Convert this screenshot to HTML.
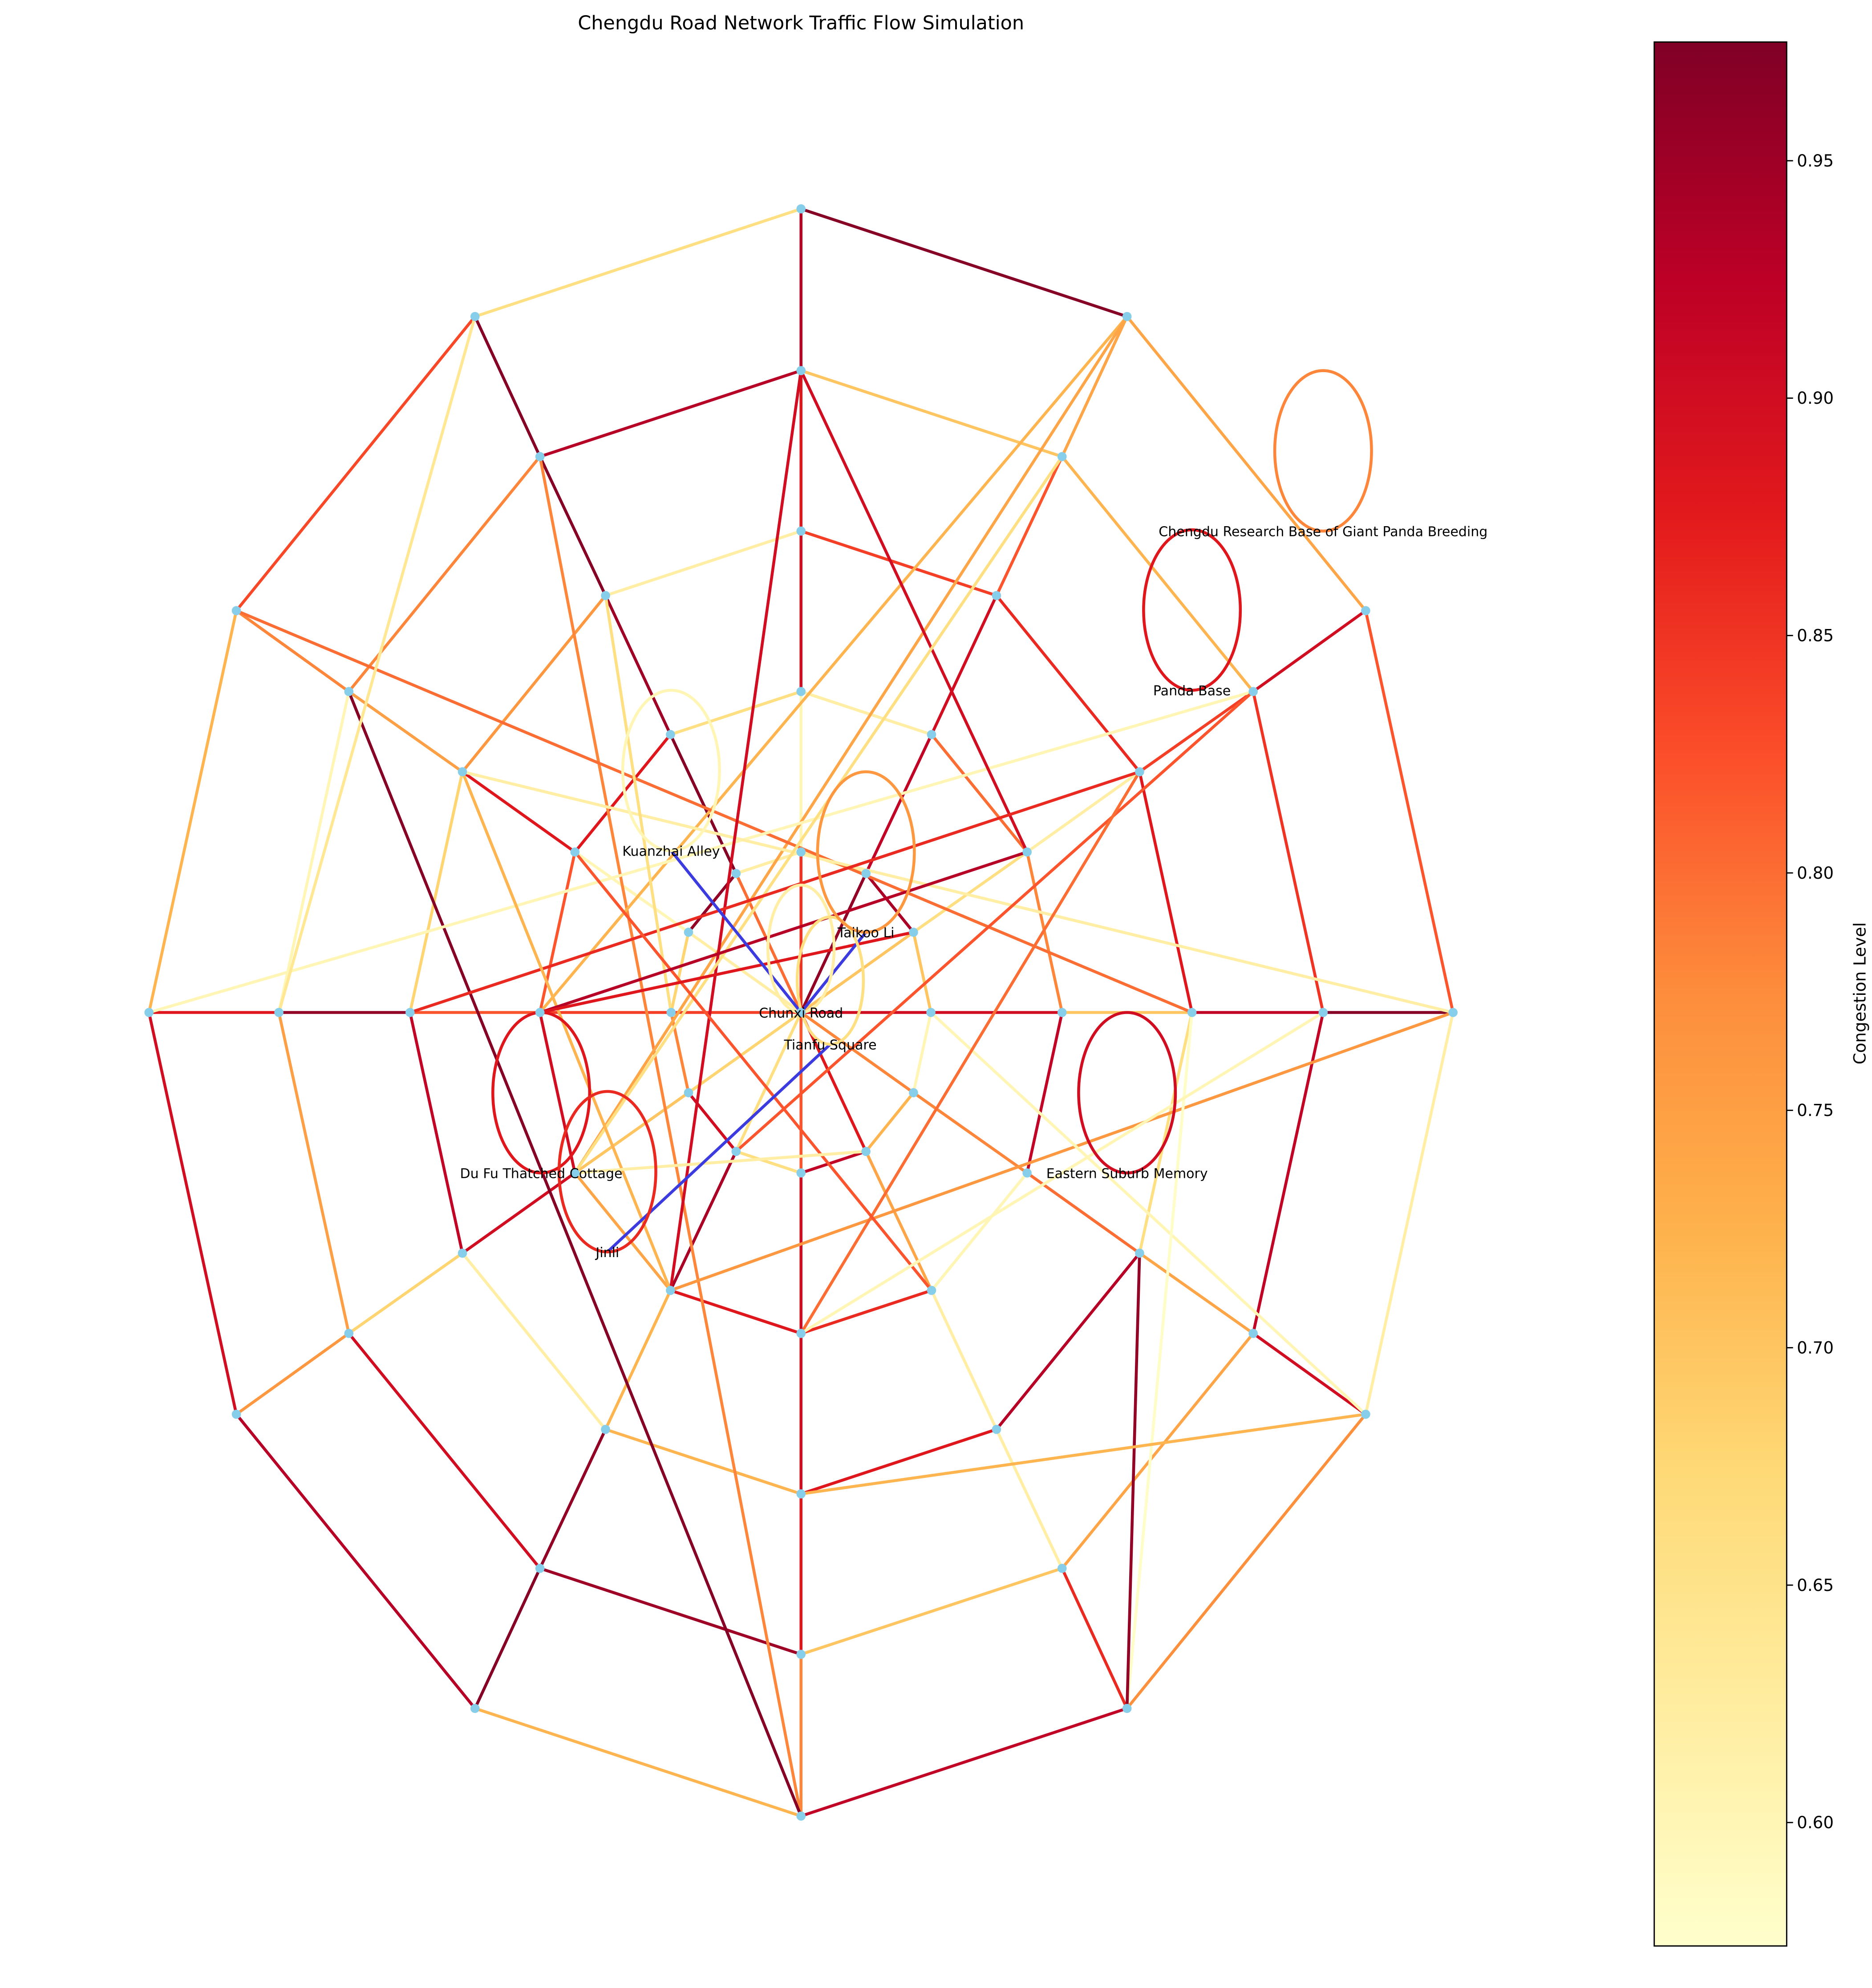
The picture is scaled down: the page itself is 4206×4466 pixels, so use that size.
<!DOCTYPE html>
<html><head><meta charset="utf-8"><style>
html,body{margin:0;padding:0;background:#fff}
svg{display:block}
text{font-family:"DejaVu Sans","Liberation Sans",sans-serif}
</style></head><body>
<svg id="chart" xmlns="http://www.w3.org/2000/svg" width="4206" height="4466" viewBox="0 0 1470 1561" preserveAspectRatio="none">
<rect width="1470" height="1561" fill="#fff"/>
<text x="629" y="23" font-size="15" text-anchor="middle">Chengdu Road Network Traffic Flow Simulation</text>
<g id="edges"></g><g id="loops"></g><g id="nodes"></g><g id="labels"></g>
<defs><linearGradient id="cbgrad" x1="0" y1="1" x2="0" y2="0"></linearGradient></defs>
<rect x="1299" y="33" width="104" height="1495" fill="url(#cbgrad)" stroke="#000" stroke-width="1"/>
<g id="cbticks"></g>
<text transform="translate(1465,780) rotate(-90)" font-size="13" text-anchor="middle">Congestion Level</text>
</svg>
<script>
// ---- data ----
const ringValues = [
 [0.97,0.74,0.82,0.62,0.77,0.92,0.72,0.93,0.90,0.72,0.83,0.66],
 [0.70,0.72,0.85,0.92,0.74,0.70,0.95,0.90,0.75,0.60,0.78,0.93],
 [0.84,0.86,0.88,0.66,0.93,0.88,0.72,0.62,0.92,0.68,0.76,0.62],
 [0.62,0.80,0.78,0.92,0.60,0.86,0.88,0.74,0.90,0.82,0.88,0.66],
 [0.64,0.94,0.70,0.60,0.72,0.92,0.66,0.90,0.78,0.68,0.96,0.62]
];
const radialValues = [
 [0.93,0.74,0.90,0.97,0.90,0.86,0.78,0.97,0.76,0.88,0.78,0.97],
 [0.88,0.82,0.84,0.92,0.74,0.62,0.88,0.96,0.68,0.96,0.75,0.97],
 [0.90,0.90,0.62,0.70,0.80,0.62,0.90,0.72,0.90,0.82,0.88,0.95],
 [0.60,0.92,0.66,0.90,0.78,0.74,0.90,0.94,0.70,0.84,0.60,0.97],
 [0.85,0.96,0.70,0.90,0.78,0.88,0.82,0.66,0.68,0.84,0.62,0.80]
];
const chordFrom = ["1.11","1.10","0.1","0.1","0.10","0.9","0.3","0.3","0.4","1.0","1.0","1.1","1.2","2.9","2.10","2.2","2.3","0.11","2.11","3.10","1.3","3.2","2.4","4.2","3.8","0.4"];
const chordTo   = ["0.6","0.6","3.9","3.8","2.3","1.2","3.7","2.10","4.3","3.7","3.2","3.8","4.7","2.2","3.7","3.6","0.5","1.9","4.9","3.5","3.6","3.9","0.5","3.9","4.5","2.6"];
const chordValues = [0.78,0.97,0.72,0.74,0.80,0.60,0.76,0.62,0.60,0.90,0.90,0.66,0.82,0.86,0.72,0.80,0.58,0.64,0.66,0.82,0.60,0.93,0.96,0.88,0.62,0.72];
const placeNames = ["Chunxi Road","Tianfu Square","Kuanzhai Alley","Taikoo Li","Panda Base","Chengdu Research Base of Giant Panda Breeding","Eastern Suburb Memory","Du Fu Thatched Cottage","Jinli"];
const placeX = [629,652,527,680,936,1039,885,425,477];
const placeY = [795,820,668,732,542,417,921,921,983];
const loopValues = [0.62,0.66,0.60,0.76,0.88,0.78,0.90,0.88,0.86];
const blueFrom = [2,1,0]; const blueTo=[0,8,3];
const cbTicks = [0.60,0.65,0.70,0.75,0.80,0.85,0.90,0.95];
const vmin=0.574, vmax=0.975;
// ---- geometry ----
const cx=629, cy=795, rxs=[512,410,307,205,102], rys=[631,504,378,252,126];
function pos(key){const [r,k]=key.split('.').map(Number);const a=k*Math.PI/6;return [cx+rxs[r]*Math.sin(a), cy-rys[r]*Math.cos(a)];}
const stops=["#ffffcc","#ffeda0","#fed976","#feb24c","#fd8d3c","#fc4e2a","#e31a1c","#bd0026","#800026"];
function hex(h){return [1,3,5].map(i=>parseInt(h.substr(i,2),16));}
function cmap(v){let t=(v-vmin)/(vmax-vmin);t=Math.max(0,Math.min(1,t))*(stops.length-1);const i=Math.min(Math.floor(t),stops.length-2),f=t-i;const a=hex(stops[i]),b=hex(stops[i+1]);return `rgb(${a.map((x,j)=>Math.round(x+(b[j]-x)*f)).join(',')})`;}
const NS='http://www.w3.org/2000/svg';
function line(g,p,q,col,name,w){const l=document.createElementNS(NS,'line');l.setAttribute('x1',p[0]);l.setAttribute('y1',p[1]);l.setAttribute('x2',q[0]);l.setAttribute('y2',q[1]);l.setAttribute('stroke',col);l.setAttribute('stroke-width',w||2.3);


g.appendChild(l);}
const eg=document.getElementById('edges');
ringValues.forEach((vals,r)=>vals.forEach((v,k)=>line(eg,pos(r+'.'+k),pos(r+'.'+((k+1)%12)),cmap(v),'ring-road-edge')));
radialValues.forEach((vals,r)=>vals.forEach((v,k)=>line(eg,pos(r+'.'+k), r<4?pos((r+1)+'.'+k):[cx,cy],cmap(v),'radial-road-edge')));
chordValues.forEach((v,i)=>line(eg,pos(chordFrom[i]),pos(chordTo[i]),cmap(v),'cross-road-edge'));
blueFrom.forEach((f,i)=>line(eg,[placeX[f],placeY[f]],[placeX[blueTo[i]],placeY[blueTo[i]]],'#3b3be0','highlighted-route-edge'));
const lg=document.getElementById('loops');
loopValues.forEach((v,i)=>{const e=document.createElementNS(NS,'ellipse');const ry=i<2?50:63;e.setAttribute('cx',placeX[i]);e.setAttribute('cy',placeY[i]-ry);e.setAttribute('rx',i<2?26:38);e.setAttribute('ry',ry);e.setAttribute('fill','none');e.setAttribute('stroke',cmap(v));e.setAttribute('stroke-width',2.3);


lg.appendChild(e);});
const ng=document.getElementById('nodes');
function dot(p){const c=document.createElementNS(NS,'circle');c.setAttribute('cx',p[0]);c.setAttribute('cy',p[1]);c.setAttribute('r',3.6);c.setAttribute('fill','#87ceeb');


ng.appendChild(c);}
dot([cx,cy]);for(let r=0;r<5;r++)for(let k=0;k<12;k++)dot(pos(r+'.'+k));
const tg=document.getElementById('labels');
placeNames.forEach((n,i)=>{const t=document.createElementNS(NS,'text');t.setAttribute('x',placeX[i]);t.setAttribute('y',placeY[i]+4);t.setAttribute('font-size','10.5');t.setAttribute('text-anchor','middle');t.textContent=n;


tg.appendChild(t);});
const gr=document.getElementById('cbgrad');
stops.forEach((s,i)=>{const st=document.createElementNS(NS,'stop');st.setAttribute('offset',i/(stops.length-1));st.setAttribute('stop-color',s);gr.appendChild(st);});
const cg=document.getElementById('cbticks');
function cbY(v){return 1528-(v-vmin)/(vmax-vmin)*1495;}
cbTicks.forEach(v=>{const y=cbY(v);line(cg,[1403,y],[1408,y],'#000','colorbar-tick',1);const t=document.createElementNS(NS,'text');t.setAttribute('x',1411);t.setAttribute('y',y+4.5);t.setAttribute('font-size','13');t.textContent=v.toFixed(2);


cg.appendChild(t);});
</script>
</body></html>
